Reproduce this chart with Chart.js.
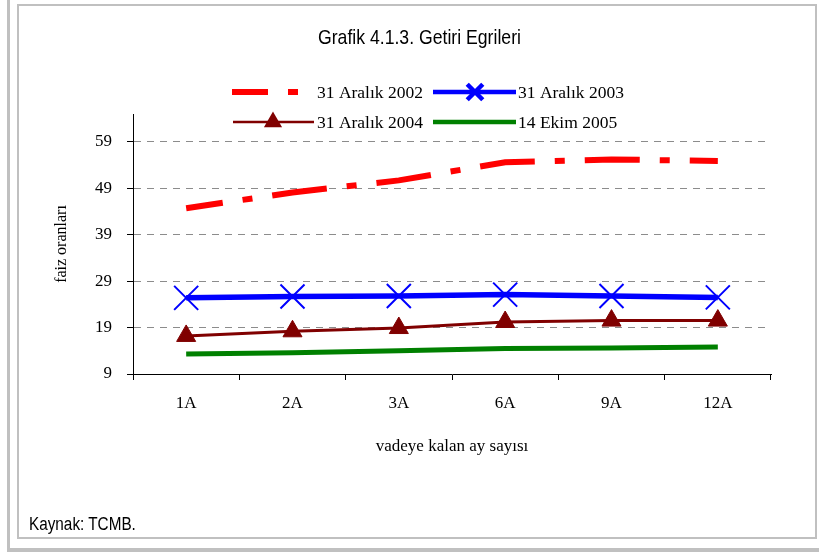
<!DOCTYPE html>
<html>
<head>
<meta charset="utf-8">
<script src="https://cdn.jsdelivr.net/npm/chart.js@4/dist/chart.umd.min.js"></script>
<style>
  html, body { margin: 0; padding: 0; background: #fff; }
  #wrap { position: relative; width: 819px; height: 555px; overflow: hidden; }
  #outer { position: absolute; left: 7px; top: -4px; width: 830px; height: 556px;
           border-left: 3px solid #c0c0c0; border-bottom: 4px solid #c0c0c0; box-sizing: border-box; }
  #inner { position: absolute; left: 17px; top: 4px; width: 800px; height: 535px;
           border: 2px solid #c0c0c0; box-sizing: border-box; }
  .narrow { position: absolute; line-height: 1; white-space: nowrap; color: #000;
            font-family: "Liberation Sans", Arial, sans-serif; transform-origin: 0 0; }
  #title { left: 318px; top: 25.5px; font-size: 21px; transform: scaleX(0.84); }
  #source { left: 29px; top: 515px; font-size: 18px; transform: scaleX(0.85); }
  canvas { position: absolute; left: 0; top: 0; }
</style>
</head>
<body>
<div id="wrap">
  <div id="outer"></div>
  <div id="inner"></div>
  <canvas id="chart" width="819" height="555"></canvas>
  <div id="title" class="narrow">Grafik 4.1.3. Getiri Egrileri</div>
  <div id="source" class="narrow">Kaynak: TCMB.</div>
</div>
<script>
// categories (months to maturity)
const categories = ["1A", "2A", "3A", "6A", "9A", "12A"];
const yTicks = [9, 19, 29, 39, 49, 59];

// interest rates
const seriesNames = ["31 Aralık 2002", "31 Aralık 2003", "31 Aralık 2004", "14 Ekim 2005"];
const rates2002 = [44.7, 48.1, 50.7, 54.6, 55.2, 54.9];
const rates2003 = [25.4, 25.7, 25.8, 26.1, 25.8, 25.5];
const rates2004 = [17.2, 18.2, 18.9, 20.2, 20.5, 20.5];
const rates2005 = [13.3, 13.6, 14.0, 14.5, 14.6, 14.8];

const serif = '"Liberation Serif", "Times New Roman", serif';

// legend drawn by hand, laid out in two rows like the original
const legendBoxes = [
    { x1: 232, x2: 298, y: 92, tx: 317, width: 6, dash: [36, 20, 10, 20] },
    { x1: 433, x2: 516, y: 92, tx: 518, width: 4.5, mx: 475, radius: 11 },
    { x1: 233, x2: 314, y: 122, tx: 317, width: 2.5, mx: 273, radius: 8 },
    { x1: 433, x2: 516, y: 122, tx: 518, width: 4.5 }
];

const legendPlugin = {
    id: 'pairLegend',
    afterDraw(chart) {
        const ctx = chart.ctx;
        chart.data.datasets.forEach((ds, i) => {
            const b = legendBoxes[i];
            ctx.save();
            ctx.strokeStyle = ds.borderColor;
            ctx.lineWidth = b.width;
            ctx.setLineDash(b.dash || []);
            ctx.beginPath();
            ctx.moveTo(b.x1, b.y);
            ctx.lineTo(b.x2, b.y);
            ctx.stroke();
            ctx.setLineDash([]);
            if (b.mx) {
                ctx.fillStyle = ds.pointBackgroundColor;
                ctx.strokeStyle = ds.pointBorderColor;
                Chart.helpers.drawPoint(ctx, {
                    pointStyle: ds.pointStyle,
                    radius: b.radius,
                    rotation: 0,
                    borderWidth: ds.pointBorderWidth
                }, b.mx, b.y);
            }
            ctx.fillStyle = '#000';
            ctx.font = '17.5px ' + serif;
            ctx.textBaseline = 'middle';
            ctx.textAlign = 'left';
            ctx.fillText(ds.label, b.tx, b.y + 1);
            ctx.restore();
        });
    }
};

new Chart(document.getElementById('chart'), {
    type: 'line',
    data: {
        labels: categories,
        datasets: [
            {
                label: seriesNames[0],
                data: rates2002,
                borderColor: '#ff0000',
                borderWidth: 6,
                borderDash: [55, 20, 10, 20],
                borderDashOffset: 18,
                pointRadius: 0,
                pointStyle: false
            },
            {
                label: seriesNames[1],
                data: rates2003,
                borderColor: '#0000ff',
                borderWidth: 5.5,
                pointStyle: 'crossRot',
                pointRadius: 17,
                pointBorderWidth: 2,
                pointBorderColor: '#0000ff',
                pointBackgroundColor: '#0000ff'
            },
            {
                label: seriesNames[2],
                data: rates2004,
                borderColor: '#800000',
                borderWidth: 3,
                pointStyle: 'triangle',
                pointRadius: 11,
                pointBorderWidth: 1,
                pointBorderColor: '#800000',
                pointBackgroundColor: '#800000'
            },
            {
                label: seriesNames[3],
                data: rates2005,
                borderColor: '#008000',
                borderWidth: 5,
                pointRadius: 0,
                pointStyle: false
            }
        ]
    },
    options: {
        responsive: false,
        devicePixelRatio: 1,
        animation: false,
        layout: { padding: { left: 40, right: 48, top: 114, bottom: 98 } },
        plugins: {
            legend: { display: false },
            tooltip: { enabled: false },
            title: { display: false }
        },
        scales: {
            x: {
                offset: true,
                grid: { offset: true, drawOnChartArea: false, color: '#000', tickLength: 6 },
                border: { color: '#000', width: 1 },
                ticks: { color: '#000', font: { family: serif, size: 17 }, padding: 13 },
                title: {
                    display: true,
                    text: 'vadeye kalan ay sayısı',
                    color: '#000',
                    font: { family: serif, size: 17 },
                    padding: { top: 0, bottom: 0 }
                },
                afterFit(scale) { scale.height = 83; }
            },
            y: {
                min: 9,
                max: 65,
                afterBuildTicks(scale) { scale.ticks = yTicks.map(v => ({ value: v })); },
                grid: {
                    color: c => (c.tick && c.tick.value === 9) ? 'rgba(0,0,0,0)' : '#8c8c8c',
                    tickColor: '#000',
                    tickLength: 6
                },
                border: { color: '#000', width: 1, dash: [7, 6] },
                ticks: { color: '#000', font: { family: serif, size: 17 }, padding: 15 },
                title: {
                    display: true,
                    text: 'faiz oranları',
                    color: '#000',
                    font: { family: serif, size: 16 },
                    padding: { top: 12, bottom: 0 }
                },
                afterFit(scale) { scale.width = 93; }
            }
        }
    },
    plugins: [legendPlugin]
});
</script>
</body>
</html>
